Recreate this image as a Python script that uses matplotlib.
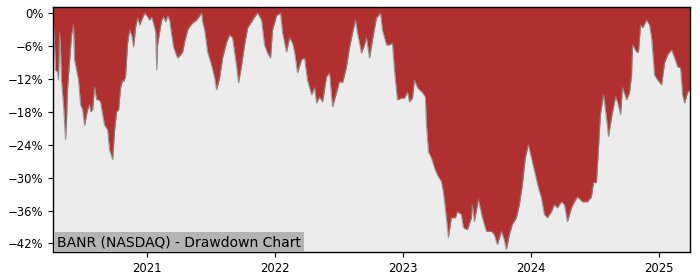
import matplotlib
matplotlib.use("Agg")
import matplotlib.pyplot as plt
import matplotlib.dates as mdates
from matplotlib.ticker import FuncFormatter
import numpy as np
import pandas as pd

# decimal-year time stamps and drawdown values (%)
years = [
    2020.268, 2020.276, 2020.284, 2020.299, 2020.307, 2020.315, 2020.323, 2020.330, 2020.346, 2020.362,
    2020.370, 2020.377, 2020.393, 2020.409, 2020.424, 2020.432, 2020.448, 2020.463, 2020.479, 2020.495,
    2020.510, 2020.526, 2020.534, 2020.549, 2020.557, 2020.573, 2020.588, 2020.604, 2020.620, 2020.635,
    2020.651, 2020.666, 2020.690, 2020.705, 2020.729, 2020.745, 2020.760, 2020.776, 2020.791, 2020.807,
    2020.815, 2020.830, 2020.846, 2020.862, 2020.877, 2020.893, 2020.909, 2020.924, 2020.940, 2020.955,
    2020.979, 2021.002, 2021.018, 2021.034, 2021.057, 2021.065, 2021.073, 2021.080, 2021.096, 2021.112,
    2021.127, 2021.143, 2021.159, 2021.174, 2021.190, 2021.205, 2021.221, 2021.237, 2021.260, 2021.276,
    2021.291, 2021.315, 2021.330, 2021.354, 2021.385, 2021.424, 2021.432, 2021.448, 2021.471, 2021.502,
    2021.526, 2021.541, 2021.565, 2021.588, 2021.620, 2021.643, 2021.666, 2021.698, 2021.713, 2021.737,
    2021.760, 2021.784, 2021.815, 2021.838, 2021.862, 2021.893, 2021.916, 2021.940, 2021.963, 2021.979,
    2022.010, 2022.041, 2022.057, 2022.088, 2022.112, 2022.135, 2022.151, 2022.174, 2022.205, 2022.229,
    2022.252, 2022.284, 2022.307, 2022.323, 2022.346, 2022.370, 2022.401, 2022.424, 2022.448, 2022.479,
    2022.502, 2022.526, 2022.557, 2022.580, 2022.604, 2022.627, 2022.643, 2022.674, 2022.698, 2022.713,
    2022.737, 2022.760, 2022.791, 2022.823, 2022.838, 2022.870, 2022.893, 2022.916, 2022.932, 2022.955,
    2022.987, 2023.010, 2023.034, 2023.049, 2023.073, 2023.088, 2023.112, 2023.151, 2023.174, 2023.182,
    2023.198, 2023.221, 2023.245, 2023.268, 2023.299, 2023.315, 2023.338, 2023.354, 2023.377, 2023.409,
    2023.424, 2023.455, 2023.471, 2023.502, 2023.534, 2023.541, 2023.557, 2023.588, 2023.620, 2023.651,
    2023.690, 2023.713, 2023.737, 2023.768, 2023.791, 2023.807, 2023.830, 2023.854, 2023.885, 2023.909,
    2023.932, 2023.955, 2023.979, 2024.010, 2024.034, 2024.057, 2024.080, 2024.104, 2024.127, 2024.159,
    2024.182, 2024.205, 2024.237, 2024.260, 2024.284, 2024.315, 2024.338, 2024.362, 2024.401, 2024.440,
    2024.471, 2024.487, 2024.510, 2024.526, 2024.541, 2024.565, 2024.588, 2024.604, 2024.627, 2024.659,
    2024.674, 2024.698, 2024.713, 2024.745, 2024.768, 2024.784, 2024.791, 2024.823, 2024.838, 2024.854,
    2024.870, 2024.901, 2024.924, 2024.940, 2024.963, 2024.987, 2025.018, 2025.041, 2025.065, 2025.096,
    2025.120, 2025.143, 2025.166, 2025.182, 2025.198, 2025.221, 2025.240,
]

drawdown_pct = [
    -2.2, -5.8, -10.4, -10.7, -12.2, -3.6, -6.7, -12.2, -16.7, -23.1,
    -19.5, -14.0, -8.9, -4.0, -2.2, -8.5, -10.4, -12.2, -16.7, -17.6,
    -20.5, -18.5, -17.6, -16.7, -18.0, -17.6, -13.5, -15.8, -15.8, -16.2,
    -18.5, -20.4, -21.3, -24.9, -26.7, -21.3, -18.0, -17.6, -13.6, -12.2,
    -12.5, -11.6, -5.5, -3.1, -4.0, -6.2, -2.5, -0.9, -2.2, -1.3,
    0.0, -0.7, -1.3, -0.7, -2.7, -3.5, -10.4, -5.8, -3.5, -1.3,
    -0.7, -1.6, -0.5, -1.3, -4.0, -6.2, -7.3, -8.2, -7.6, -7.1,
    -5.3, -3.1, -2.5, -1.8, -1.3, 0.0, -1.6, -3.1, -7.1, -9.5,
    -11.8, -14.0, -11.8, -8.2, -5.3, -4.0, -4.5, -9.8, -12.7, -9.5,
    -5.8, -2.7, -1.6, -0.7, 0.0, -1.3, -5.8, -7.3, -8.2, -3.1,
    -0.5, 0.0, -3.6, -7.1, -4.5, -5.5, -7.1, -10.9, -8.5, -8.2,
    -12.2, -14.9, -13.6, -16.4, -15.3, -16.2, -11.6, -10.9, -17.1, -14.5,
    -12.5, -12.7, -9.8, -6.4, -3.6, -1.3, -3.6, -7.3, -5.8, -4.5,
    -8.2, -4.9, -0.9, 0.0, -3.1, -5.8, -5.8, -5.5, -10.4, -15.8,
    -15.5, -15.5, -14.4, -16.2, -15.5, -12.2, -13.6, -14.5, -15.3, -20.4,
    -25.3, -26.4, -28.2, -29.5, -30.7, -32.7, -37.3, -40.9, -37.3, -37.3,
    -36.2, -36.7, -39.1, -39.5, -37.3, -34.9, -38.0, -34.0, -37.3, -39.8,
    -39.8, -40.4, -42.2, -39.8, -41.3, -43.1, -40.4, -38.5, -37.3, -34.9,
    -31.3, -26.4, -24.0, -27.1, -29.5, -31.8, -33.6, -36.7, -37.3, -36.2,
    -34.9, -35.5, -34.4, -34.9, -38.0, -35.5, -34.4, -33.5, -34.4, -34.4,
    -33.5, -30.9, -30.9, -24.5, -18.5, -14.9, -19.1, -22.5, -19.1, -15.3,
    -16.2, -18.5, -13.6, -15.8, -14.5, -11.3, -5.8, -7.1, -7.1, -2.2,
    -2.7, -1.3, -2.2, -4.5, -11.3, -12.2, -13.1, -9.1, -7.6, -6.7,
    -8.2, -9.8, -10.0, -14.9, -16.4, -14.5, -14.0,
]

y_ticks_pct = [0, -6, -12, -18, -24, -30, -36, -42]
x_tick_years = [2021, 2022, 2023, 2024, 2025]
title_text = "BANR (NASDAQ) - Drawdown Chart"


def year_to_date(y):
    yr = int(np.floor(y))
    start = pd.Timestamp(year=yr, month=1, day=1)
    end = pd.Timestamp(year=yr + 1, month=1, day=1)
    return start + (end - start) * (y - yr)


dates = [year_to_date(y) for y in years]
dd = np.array(drawdown_pct) / 100.0

fig = plt.figure(figsize=(7, 2.8), dpi=100)
ax = fig.add_axes([0.076, 0.1, 0.910, 0.875])
ax.set_facecolor("#ececec")

ax.fill_between(dates, dd, 0.05, color="#b03030", linewidth=0, zorder=2)
ax.plot(dates, dd, color="#8a8a8a", linewidth=0.8, alpha=0.8, zorder=3)

ax.set_xlim(year_to_date(2020.266), year_to_date(2025.242))
ax.set_ylim(-0.4355, 0.0109)

ax.set_yticks([v / 100 for v in y_ticks_pct])
ax.yaxis.set_major_formatter(FuncFormatter(lambda v, p: f"{v*100:.0f}%".replace("-", "\u2212")))
ax.set_xticks([pd.Timestamp(year=y, month=1, day=1) for y in x_tick_years])
ax.xaxis.set_major_formatter(mdates.DateFormatter("%Y"))
ax.tick_params(labelsize=8.4, length=3.5)

for s in ax.spines.values():
    s.set_linewidth(1.0)
    s.set_color("black")
    s.set_zorder(5)

ax.text(0.006, 0.012, title_text, transform=ax.transAxes, fontsize=10,
        ha="left", va="bottom", zorder=6,
        bbox=dict(facecolor="#b4b4b4", edgecolor="none", pad=2.2))

fig.savefig("out.png", dpi=100)
